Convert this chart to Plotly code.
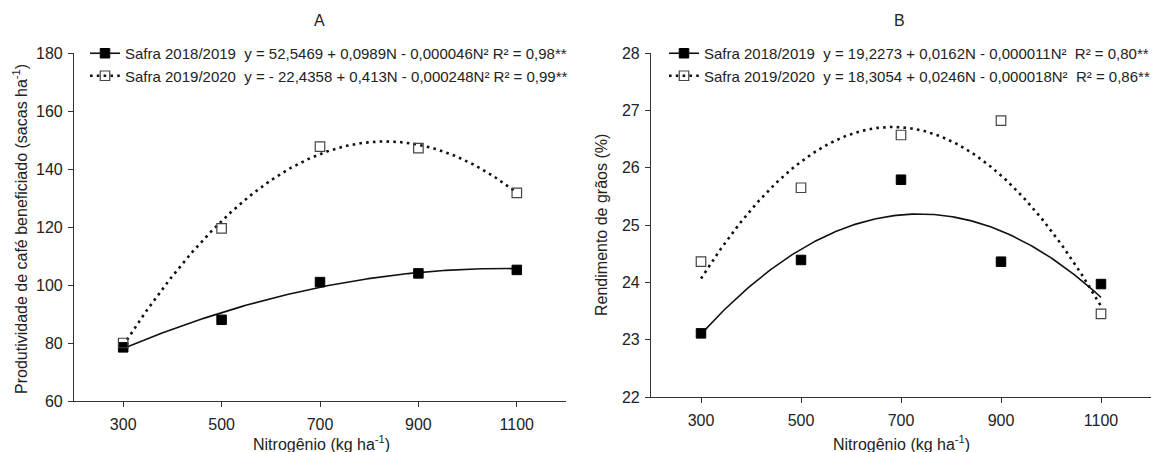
import numpy as np
import plotly.graph_objects as go

# ---- data ----
nitrogen = [300, 500, 700, 900, 1100]

# Panel A: Produtividade de café beneficiado (sacas/ha)
prod_2018 = [78.5, 88.0, 101.0, 104.0, 105.2]
prod_2019 = [80.0, 119.5, 147.7, 147.2, 131.8]
coef_prod_2018 = [52.5469, 0.0989, -0.000046]
coef_prod_2019 = [-22.4358, 0.413, -0.000248]

# Panel B: Rendimento de grãos (%)
rend_2018 = [23.11, 24.39, 25.79, 24.36, 23.97]
rend_2019 = [24.36, 25.65, 26.57, 26.82, 23.45]
coef_rend_2018 = [19.2273, 0.0162, -0.000011]
coef_rend_2019 = [18.3054, 0.0246, -0.000018]

leg_A = [
    "Safra 2018/2019  y = 52,5469 + 0,0989N - 0,000046N² R² = 0,98**",
    "Safra 2019/2020  y = - 22,4358 + 0,413N - 0,000248N² R² = 0,99**",
]
leg_B = [
    "Safra 2018/2019  y = 19,2273 + 0,0162N - 0,000011N²  R² = 0,80**",
    "Safra 2019/2020  y = 18,3054 + 0,0246N - 0,000018N²  R² = 0,86**",
]

x_ticks = [300, 500, 700, 900, 1100]

W, H = 1167, 452
OFF = 8  # page body margin offset
FONT = "Liberation Sans, Arial, sans-serif"
TXT = "#222222"
AX = "#333333"

def px_x(p):
    return (p - OFF) / W

def px_y(p):
    return 1 - (p - OFF) / H

fig = go.Figure()

nfit = np.linspace(300, 1100, 200)

def quad(c, n):
    return c[0] + c[1] * n + c[2] * n ** 2

DOT = dict(color="#111111", width=2.6, dash="2.6px,4.2px")
SOLID = dict(color="#111111", width=1.6)
M_FILL = dict(symbol="square", size=9.5, color="#000000", line=dict(color="#000000", width=1))
M_OPEN = dict(symbol="square-open", size=9.5, color="#444444", line=dict(width=1.2))

def add_panel(xa, ya, legend, ys_filled, ys_open, c_filled, c_open, labels):
    fig.add_trace(go.Scatter(x=nfit, y=quad(c_filled, nfit), mode="lines", line=SOLID,
                             xaxis=xa, yaxis=ya, showlegend=False, hoverinfo="skip"))
    fig.add_trace(go.Scatter(x=nfit, y=quad(c_open, nfit), mode="lines", line=DOT,
                             xaxis=xa, yaxis=ya, showlegend=False, hoverinfo="skip"))
    fig.add_trace(go.Scatter(x=nitrogen, y=ys_filled, mode="markers", marker=M_FILL,
                             xaxis=xa, yaxis=ya, showlegend=False))
    fig.add_trace(go.Scatter(x=nitrogen, y=ys_open, mode="markers", marker=M_OPEN,
                             xaxis=xa, yaxis=ya, showlegend=False))
    # legend entries
    fig.add_trace(go.Scatter(x=[None], y=[None], mode="lines+markers", name=labels[0],
                             line=SOLID, marker=M_FILL,
                             xaxis=xa, yaxis=ya, legend=legend, legendgroup=legend + "a"))
    fig.add_trace(go.Scatter(x=[None], y=[None], mode="lines+markers", name=labels[1],
                             line=DOT, marker=M_OPEN,
                             xaxis=xa, yaxis=ya, legend=legend, legendgroup=legend + "b"))

add_panel("x", "y", "legend", prod_2018, prod_2019, coef_prod_2018, coef_prod_2019, leg_A)
add_panel("x2", "y2", "legend2", rend_2018, rend_2019, coef_rend_2018, coef_rend_2019, leg_B)

axis_common = dict(showgrid=False, zeroline=False, showline=True, linecolor=AX, linewidth=1.2,
                   ticks="outside", ticklen=5, tickwidth=1.2, tickcolor=AX, automargin=False,
                   tickfont=dict(family=FONT, size=16, color=TXT), mirror=False)

legend_common = dict(xanchor="left", yanchor="top", bgcolor="rgba(0,0,0,0)", borderwidth=0,
                     tracegroupgap=0, font=dict(family=FONT, size=15, color=TXT))

fig.update_layout(
    template="none",
    width=W, height=H,
    margin=dict(l=0, r=0, t=0, b=0, pad=0),
    paper_bgcolor="white", plot_bgcolor="white",
    font=dict(family=FONT, color=TXT),
    xaxis=dict(domain=[px_x(74), px_x(566)], range=[200, 1200], tickvals=x_ticks,
               anchor="y", ticklabelstandoff=4, **axis_common),
    yaxis=dict(domain=[px_y(401), px_y(53)], range=[60, 180], dtick=20,
               anchor="x", ticklabelstandoff=2, **axis_common),
    xaxis2=dict(domain=[px_x(651), px_x(1151)], range=[200, 1200], tickvals=x_ticks,
                anchor="y2", ticklabelstandoff=4, **axis_common),
    yaxis2=dict(domain=[px_y(397), px_y(53)], range=[22, 28], dtick=1,
                anchor="x2", ticklabelstandoff=2, **axis_common),
    legend=dict(x=px_x(85), y=px_y(37), **legend_common),
    legend2=dict(x=px_x(664), y=px_y(37), **legend_common),
    showlegend=True,
)

ann_font = dict(family=FONT, size=16, color=TXT)
annotations = [
    dict(text="A", x=px_x(319), y=px_y(21), font=ann_font),
    dict(text="B", x=px_x(899), y=px_y(21), font=ann_font),
    dict(text="Nitrogênio (kg ha<sup>-1</sup>)", x=px_x(321), y=px_y(443), font=ann_font),
    dict(text="Nitrogênio (kg ha<sup>-1</sup>)", x=px_x(901), y=px_y(443), font=ann_font),
    dict(text="Produtividade de café beneficiado (sacas ha<sup>-1</sup>)", x=px_x(20), y=px_y(229),
         textangle=-90, font=ann_font),
    dict(text="Rendimento de grãos (%)", x=px_x(601), y=px_y(225),
         textangle=-90, font=ann_font),
]
for a in annotations:
    a.update(xref="paper", yref="paper", showarrow=False, xanchor="center", yanchor="middle")
fig.update_layout(annotations=annotations)

fig.write_html("out.html")
